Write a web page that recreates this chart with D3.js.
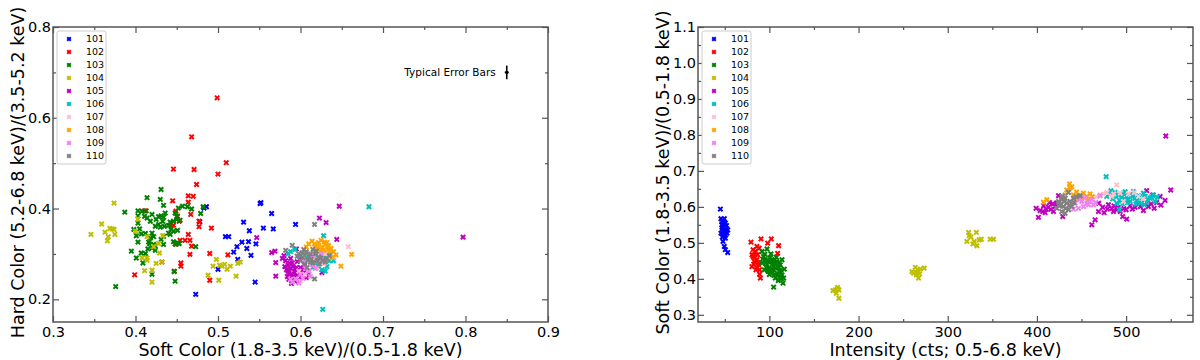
<!DOCTYPE html>
<html>
<head>
<meta charset="utf-8">
<script src="https://cdn.jsdelivr.net/npm/d3@7"></script>
<style>
body { margin: 0; background: #fff; }
text { font-family: "DejaVu Sans", sans-serif; }
</style>
</head>
<body>
<script>
var obsIds = ["101", "102", "103", "104", "105", "106", "107", "108", "109", "110"];
var palette = ["#0000ff", "#ff0000", "#008000", "#bfbf00", "#bf00bf", "#00bfbf", "#ffc0cb", "#ffa500", "#ee82ee", "#808080"];

// left panel: [soft color, hard color]
var hard101 = [[0.483,0.401],[0.478,0.371],[0.509,0.338],[0.513,0.338],[0.519,0.304],[0.552,0.413],[0.565,0.389],[0.555,0.357],[0.567,0.355],[0.531,0.370],[0.538,0.351],[0.537,0.327],[0.529,0.326],[0.546,0.322],[0.523,0.316],[0.535,0.312],[0.540,0.297],[0.524,0.288],[0.500,0.266],[0.545,0.238],[0.594,0.365],[0.473,0.211],[0.551,0.411],[0.486,0.404]];
var hard102 = [[0.499,0.644],[0.468,0.558],[0.510,0.501],[0.446,0.487],[0.471,0.486],[0.500,0.476],[0.474,0.453],[0.464,0.428],[0.470,0.427],[0.464,0.414],[0.445,0.417],[0.467,0.387],[0.477,0.372],[0.477,0.360],[0.492,0.357],[0.449,0.394],[0.451,0.383],[0.446,0.363],[0.443,0.362],[0.453,0.372],[0.411,0.395],[0.464,0.343],[0.454,0.330],[0.460,0.330],[0.466,0.330],[0.468,0.317],[0.448,0.322],[0.466,0.299],[0.455,0.280],[0.455,0.273],[0.432,0.282],[0.399,0.254],[0.490,0.301],[0.490,0.242],[0.512,0.298],[0.447,0.262]];
var hard103 = [[0.431,0.442],[0.414,0.424],[0.430,0.420],[0.434,0.407],[0.387,0.392],[0.403,0.395],[0.408,0.394],[0.413,0.395],[0.411,0.383],[0.403,0.384],[0.414,0.379],[0.418,0.372],[0.420,0.387],[0.425,0.376],[0.428,0.382],[0.431,0.384],[0.434,0.381],[0.436,0.390],[0.433,0.372],[0.428,0.365],[0.424,0.361],[0.430,0.359],[0.435,0.361],[0.440,0.363],[0.442,0.370],[0.446,0.372],[0.450,0.382],[0.448,0.390],[0.452,0.401],[0.457,0.405],[0.463,0.404],[0.468,0.399],[0.482,0.404],[0.479,0.389],[0.443,0.354],[0.440,0.346],[0.434,0.339],[0.431,0.332],[0.403,0.368],[0.398,0.354],[0.401,0.340],[0.405,0.355],[0.407,0.344],[0.412,0.345],[0.403,0.326],[0.416,0.326],[0.418,0.335],[0.420,0.346],[0.422,0.338],[0.417,0.322],[0.420,0.313],[0.424,0.317],[0.422,0.321],[0.424,0.308],[0.395,0.306],[0.401,0.291],[0.407,0.302],[0.409,0.280],[0.412,0.301],[0.415,0.311],[0.420,0.255],[0.447,0.261],[0.448,0.240],[0.376,0.228],[0.473,0.316],[0.453,0.323],[0.449,0.321],[0.434,0.321],[0.446,0.327],[0.451,0.324],[0.442,0.343],[0.446,0.350],[0.451,0.352],[0.450,0.376],[0.454,0.374]];
var hard104 = [[0.374,0.412],[0.359,0.366],[0.346,0.343],[0.363,0.348],[0.369,0.356],[0.372,0.355],[0.374,0.354],[0.375,0.343],[0.367,0.338],[0.366,0.329],[0.400,0.350],[0.414,0.338],[0.433,0.340],[0.422,0.316],[0.428,0.323],[0.408,0.291],[0.414,0.291],[0.414,0.286],[0.429,0.302],[0.425,0.279],[0.432,0.282],[0.411,0.263],[0.420,0.264],[0.420,0.238],[0.403,0.377],[0.488,0.253],[0.498,0.288],[0.501,0.242],[0.502,0.275],[0.505,0.273],[0.508,0.277],[0.511,0.266],[0.515,0.273],[0.524,0.279],[0.527,0.282],[0.522,0.251],[0.494,0.273]];
var hard105 = [[0.547,0.336],[0.797,0.337],[0.647,0.405],[0.623,0.379],[0.631,0.369],[0.644,0.332],[0.565,0.303],[0.569,0.306],[0.570,0.281],[0.570,0.251],[0.578,0.290],[0.595,0.311],[0.607,0.248],[0.626,0.259],[0.582,0.285],[0.585,0.275],[0.588,0.268],[0.590,0.280],[0.593,0.262],[0.586,0.258],[0.590,0.252],[0.595,0.270],[0.598,0.258],[0.600,0.248],[0.592,0.242],[0.596,0.283],[0.583,0.265],[0.588,0.290],[0.602,0.265],[0.597,0.240],[0.605,0.275],[0.584,0.250],[0.591,0.272],[0.594,0.255],[0.599,0.288],[0.587,0.279],[0.585,0.262],[0.589,0.256],[0.593,0.249],[0.596,0.262],[0.600,0.270],[0.604,0.258],[0.586,0.244],[0.581,0.272],[0.610,0.255],[0.580,0.296],[0.589,0.235]];
var hard106 = [[0.683,0.404],[0.627,0.178],[0.585,0.300],[0.600,0.297],[0.625,0.297],[0.635,0.285],[0.626,0.265],[0.630,0.262],[0.593,0.310],[0.612,0.292],[0.620,0.280],[0.640,0.285],[0.628,0.340],[0.605,0.298],[0.615,0.270],[0.632,0.272],[0.618,0.296],[0.608,0.288],[0.630,0.292],[0.622,0.272],[0.588,0.305],[0.636,0.305],[0.614,0.282],[0.624,0.310]];
var hard107 = [[0.658,0.316],[0.605,0.255],[0.610,0.263],[0.620,0.270],[0.630,0.300],[0.615,0.292],[0.625,0.285],[0.636,0.298],[0.600,0.240],[0.622,0.305],[0.640,0.293],[0.612,0.278],[0.628,0.278],[0.598,0.262],[0.634,0.310]];
var hard108 = [[0.614,0.328],[0.662,0.299],[0.649,0.273],[0.610,0.322],[0.618,0.318],[0.622,0.325],[0.626,0.315],[0.630,0.320],[0.628,0.308],[0.624,0.305],[0.633,0.310],[0.636,0.300],[0.640,0.305],[0.620,0.312],[0.632,0.325],[0.607,0.315],[0.638,0.292],[0.616,0.300],[0.643,0.298],[0.625,0.330],[0.629,0.326],[0.634,0.318],[0.617,0.322],[0.637,0.312],[0.621,0.318]];
var hard109 = [[0.590,0.238],[0.594,0.245],[0.600,0.255],[0.610,0.262],[0.615,0.275],[0.620,0.290],[0.605,0.285],[0.625,0.300],[0.612,0.250],[0.598,0.236],[0.588,0.244],[0.618,0.268],[0.606,0.268],[0.613,0.296],[0.603,0.246],[0.623,0.282]];
var hard110 = [[0.617,0.365],[0.590,0.319],[0.582,0.308],[0.617,0.245],[0.598,0.300],[0.603,0.292],[0.607,0.305],[0.610,0.295],[0.613,0.288],[0.600,0.285],[0.605,0.278],[0.612,0.282],[0.618,0.300],[0.620,0.285],[0.623,0.278],[0.596,0.295],[0.615,0.310],[0.608,0.270],[0.622,0.293],[0.627,0.285],[0.632,0.290],[0.635,0.296],[0.602,0.302],[0.609,0.286],[0.615,0.280],[0.625,0.290],[0.630,0.282],[0.619,0.306],[0.604,0.310],[0.612,0.300]];

// right panel: [intensity, soft color]
var soft101 = [[45.1,0.594],[45.8,0.567],[49.5,0.567],[46.9,0.559],[50.7,0.555],[48.0,0.545],[51.8,0.538],[46.9,0.536],[49.5,0.531],[53.3,0.536],[48.8,0.522],[47.3,0.516],[50.7,0.513],[48.0,0.504],[49.5,0.490],[50.7,0.481],[53.3,0.473],[46.6,0.550],[52.5,0.527],[45.8,0.527],[47.5,0.541],[51.0,0.522],[49.0,0.558],[52.0,0.548]];
var soft102 = [[79.4,0.502],[90.6,0.511],[98.1,0.499],[102.2,0.511],[110.4,0.492],[109.3,0.471],[81.7,0.481],[84.3,0.469],[81.7,0.462],[83.2,0.448],[86.1,0.453],[80.5,0.434],[86.1,0.430],[89.1,0.425],[89.9,0.402],[84.3,0.476],[86.9,0.467],[86.1,0.490],[80.5,0.467],[88.0,0.439],[83.0,0.458],[87.5,0.445],[85.0,0.425],[89.0,0.413],[82.5,0.441],[88.5,0.485]];
var soft103 = [[97.4,0.483],[91.8,0.476],[93.6,0.462],[95.5,0.453],[99.2,0.448],[103.0,0.453],[106.7,0.444],[108.6,0.448],[104.8,0.434],[110.4,0.430],[112.3,0.420],[114.2,0.411],[116.0,0.402],[115.3,0.388],[104.8,0.377],[99.2,0.430],[97.4,0.439],[91.8,0.444],[94.4,0.425],[101.1,0.420],[108.6,0.416],[111.5,0.406],[106.7,0.402],[103.0,0.439],[112.3,0.439],[101.8,0.469],[107.8,0.460],[114.2,0.453],[116.8,0.427],[110.0,0.395],[105.0,0.410],[100.0,0.412],[96.0,0.445],[109.0,0.433],[113.0,0.425],[92.5,0.455],[95.0,0.468],[102.0,0.447],[105.5,0.452],[98.5,0.421],[103.5,0.426],[107.0,0.430],[111.0,0.445],[109.5,0.411],[113.5,0.400],[96.5,0.432],[100.5,0.458],[104.0,0.418]];
var soft104 = [[176.5,0.376],[173.9,0.369],[171.3,0.367],[178.0,0.369],[175.0,0.360],[178.0,0.346],[176.5,0.371],[259.9,0.420],[263.6,0.432],[266.2,0.425],[269.2,0.427],[273.7,0.430],[264.7,0.411],[267.3,0.402],[261.7,0.416],[268.5,0.414],[265.0,0.418],[323.4,0.529],[332.0,0.529],[326.0,0.516],[335.3,0.508],[329.7,0.504],[332.7,0.492],[337.6,0.510],[347.6,0.510],[351.4,0.510],[321.5,0.504],[328.2,0.497],[324.0,0.520]];
var soft105 = [[399.1,0.596],[401.7,0.571],[403.6,0.590],[406.6,0.587],[410.3,0.594],[412.9,0.599],[417.8,0.608],[420.4,0.601],[409.2,0.584],[414.1,0.612],[424.2,0.631],[429.0,0.573],[418.6,0.587],[461.5,0.550],[465.2,0.564],[469.0,0.587],[473.8,0.599],[479.1,0.594],[483.9,0.596],[489.5,0.592],[493.3,0.587],[500.0,0.592],[504.5,0.603],[510.1,0.599],[523.1,0.645],[529.9,0.633],[534.3,0.612],[538.1,0.629],[543.7,0.618],[550.0,0.647],[519.4,0.590],[525.0,0.601],[513.8,0.610],[500.7,0.566],[496.2,0.573],[469.3,0.610],[480.2,0.606],[475.3,0.584],[485.8,0.587],[544.5,0.797],[486.5,0.603],[491.0,0.598],[497.5,0.595],[507.0,0.594],[516.0,0.601],[528.0,0.608],[531.5,0.596],[539.0,0.605],[415.5,0.593],[422.0,0.611],[407.5,0.603]];
var soft106 = [[477.6,0.684],[482.0,0.636],[487.6,0.640],[491.4,0.633],[497.0,0.638],[500.7,0.629],[506.3,0.633],[510.1,0.624],[513.8,0.631],[517.5,0.619],[521.3,0.629],[526.9,0.624],[530.6,0.633],[532.5,0.615],[493.3,0.615],[489.5,0.610],[504.5,0.615],[515.7,0.610],[523.1,0.612],[478.3,0.629],[492.5,0.592],[508.2,0.643],[519.4,0.638],[498.9,0.621],[485.0,0.622],[495.0,0.626],[502.0,0.620],[507.5,0.628],[512.0,0.617],[518.0,0.626],[524.5,0.620],[528.5,0.628],[535.0,0.627],[496.0,0.608],[501.5,0.612],[511.0,0.608],[520.5,0.606],[489.0,0.628],[483.0,0.645],[499.0,0.642]];
var soft107 = [[489.5,0.661],[470.8,0.633],[474.6,0.636],[483.9,0.629],[493.3,0.638],[502.6,0.636],[513.8,0.629],[497.0,0.615],[478.5,0.640],[486.0,0.636],[509.0,0.640],[519.0,0.622],[466.5,0.628]];
var soft108 = [[436.5,0.664],[439.1,0.656],[407.3,0.613],[411.1,0.620],[437.2,0.652],[441.0,0.633],[452.2,0.638],[455.9,0.629],[459.6,0.636],[431.6,0.633],[446.6,0.631],[450.3,0.627],[457.8,0.621],[442.8,0.620],[433.5,0.647],[444.5,0.641],[448.0,0.622],[462.0,0.628],[428.5,0.628]];
var soft109 = [[450.3,0.615],[455.9,0.610],[461.5,0.620],[446.6,0.596],[441.0,0.594],[457.8,0.606],[470.8,0.631],[442.8,0.610],[452.2,0.601],[463.4,0.606],[447.5,0.620],[459.0,0.615],[466.0,0.612],[453.5,0.625]];
var soft110 = [[424.2,0.615],[427.9,0.620],[431.6,0.624],[435.4,0.640],[426.0,0.606],[429.8,0.601],[433.5,0.610],[437.2,0.615],[441.0,0.624],[448.4,0.631],[427.9,0.587],[431.6,0.582],[422.3,0.596],[439.1,0.601],[435.4,0.592],[424.8,0.603],[430.5,0.615],[436.5,0.604],[441.5,0.612],[444.0,0.628],[432.5,0.596],[428.5,0.630]];

// typical error bar on the left panel: [x, y, y error]
var typicalErr = [0.85, 0.70, 0.015];

var width = 1200, height = 360;
var svg = d3.select("body").append("svg").attr("width", width).attr("height", height);

function xMark(sel, s) {
  sel.append("path")
    .attr("d", "M" + (-s) + "," + (-s) + "L" + s + "," + s + "M" + (-s) + "," + s + "L" + s + "," + (-s))
    .attr("fill", "none")
    .attr("stroke-width", 2);
}

function drawPanel(p) {
  var x = d3.scaleLinear().domain(p.xDomain).range([p.left, p.right]);
  var y = d3.scaleLinear().domain(p.yDomain).range([p.bottom, p.top]);
  var g = svg.append("g");

  function addAxis(axis, tx, ty) {
    var a = g.append("g").attr("transform", "translate(" + tx + "," + ty + ")").call(axis);
    a.select(".domain").remove();
    a.selectAll("line").attr("stroke", "#555").attr("stroke-width", 1.2);
    a.selectAll("text").attr("font-size", 14.5).attr("fill", "#000").attr("font-family", "DejaVu Sans");
  }
  addAxis(d3.axisBottom(x).tickValues(p.xMajor).tickSizeInner(-6).tickSizeOuter(0).tickPadding(5).tickFormat(p.xFmt), 0, p.bottom);
  addAxis(d3.axisBottom(x).tickValues(p.xMinor).tickSizeInner(-3).tickSizeOuter(0).tickFormat(""), 0, p.bottom);
  addAxis(d3.axisTop(x).tickValues(p.xMajor).tickSizeInner(-6).tickSizeOuter(0).tickFormat(""), 0, p.top);
  addAxis(d3.axisTop(x).tickValues(p.xMinor).tickSizeInner(-3).tickSizeOuter(0).tickFormat(""), 0, p.top);
  addAxis(d3.axisLeft(y).tickValues(p.yMajor).tickSizeInner(-6).tickSizeOuter(0).tickPadding(2).tickFormat(p.yFmt), p.left, 0);
  addAxis(d3.axisLeft(y).tickValues(p.yMinor).tickSizeInner(-3).tickSizeOuter(0).tickFormat(""), p.left, 0);
  addAxis(d3.axisRight(y).tickValues(p.yMajor).tickSizeInner(-6).tickSizeOuter(0).tickFormat(""), p.right, 0);
  addAxis(d3.axisRight(y).tickValues(p.yMinor).tickSizeInner(-3).tickSizeOuter(0).tickFormat(""), p.right, 0);

  g.append("rect")
    .attr("x", p.left).attr("y", p.top)
    .attr("width", p.right - p.left).attr("height", p.bottom - p.top)
    .attr("fill", "none").attr("stroke", "#555").attr("stroke-width", 1.5);

  // points, one group per observation
  p.series.forEach(function(pts, i) {
    var sg = g.append("g").attr("stroke", palette[i]);
    sg.selectAll("g.pt").data(pts).enter().append("g")
      .attr("class", "pt")
      .attr("transform", function(d) { return "translate(" + x(d[0]) + "," + y(d[1]) + ")"; })
      .call(xMark, 2.2);
  });

  // axis titles
  g.append("text")
    .attr("x", (p.left + p.right) / 2).attr("y", 356)
    .attr("text-anchor", "middle").attr("font-size", 17.5)
    .text(p.xTitle);
  g.append("text")
    .attr("transform", "translate(" + (p.left - 29) + "," + ((p.top + p.bottom) / 2 - 2) + ") rotate(-90)")
    .attr("text-anchor", "middle").attr("font-size", 17.5)
    .text(p.yTitle);

  // legend
  var lg = g.append("g").attr("transform", "translate(" + (p.left + 4) + ",31)");
  lg.append("rect").attr("width", 49).attr("height", 133).attr("rx", 2)
    .attr("fill", "#fff").attr("stroke", "#ccc").attr("stroke-width", 1);
  obsIds.forEach(function(id, i) {
    var row = lg.append("g").attr("transform", "translate(0," + (8 + i * 13) + ")");
    row.append("g").attr("transform", "translate(12,0)").attr("stroke", palette[i]).call(xMark, 1.8);
    row.append("text").attr("x", 29).attr("dy", "0.35em").attr("font-size", 9.5).text(id);
  });

  return {x: x, y: y, g: g};
}

var left = drawPanel({
  left: 53, right: 548, top: 27, bottom: 322,
  xDomain: [0.3, 0.9], yDomain: [0.15, 0.8],
  xMajor: [0.3, 0.4, 0.5, 0.6, 0.7, 0.8, 0.9], xMinor: [0.35, 0.45, 0.55, 0.65, 0.75, 0.85],
  yMajor: [0.2, 0.4, 0.6, 0.8], yMinor: [0.3, 0.5, 0.7],
  xFmt: d3.format(".1f"), yFmt: d3.format(".1f"),
  xTitle: "Soft Color (1.8-3.5 keV)/(0.5-1.8 keV)",
  yTitle: "Hard Color (5.2-6.8 keV)/(3.5-5.2 keV)",
  series: [hard101, hard102, hard103, hard104, hard105, hard106, hard107, hard108, hard109, hard110]
});

// typical error bar
var ex = left.x(typicalErr[0]), ey = left.y(typicalErr[1]);
left.g.append("line")
  .attr("x1", ex).attr("x2", ex)
  .attr("y1", left.y(typicalErr[1] + typicalErr[2])).attr("y2", left.y(typicalErr[1] - typicalErr[2]))
  .attr("stroke", "#000").attr("stroke-width", 1.6);
left.g.append("line")
  .attr("x1", ex - 2).attr("x2", ex + 2).attr("y1", ey).attr("y2", ey)
  .attr("stroke", "#000").attr("stroke-width", 1.6);
left.g.append("circle").attr("cx", ex).attr("cy", ey).attr("r", 1.6).attr("fill", "#000");
left.g.append("text")
  .attr("x", ex - 11).attr("y", ey + 3.5)
  .attr("text-anchor", "end").attr("font-size", 10.5)
  .text("Typical Error Bars");

drawPanel({
  left: 698, right: 1193, top: 27, bottom: 322,
  xDomain: [20, 575], yDomain: [0.28, 1.1],
  xMajor: [100, 200, 300, 400, 500], xMinor: [50, 150, 250, 350, 450, 550],
  yMajor: [0.3, 0.4, 0.5, 0.6, 0.7, 0.8, 0.9, 1.0, 1.1], yMinor: [0.35, 0.45, 0.55, 0.65, 0.75, 0.85, 0.95, 1.05],
  xFmt: d3.format("d"), yFmt: d3.format(".1f"),
  xTitle: "Intensity (cts; 0.5-6.8 keV)",
  yTitle: "Soft Color (1.8-3.5 keV)/(0.5-1.8 keV)",
  series: [soft101, soft102, soft103, soft104, soft105, soft106, soft107, soft108, soft109, soft110]
});
</script>
</body>
</html>
